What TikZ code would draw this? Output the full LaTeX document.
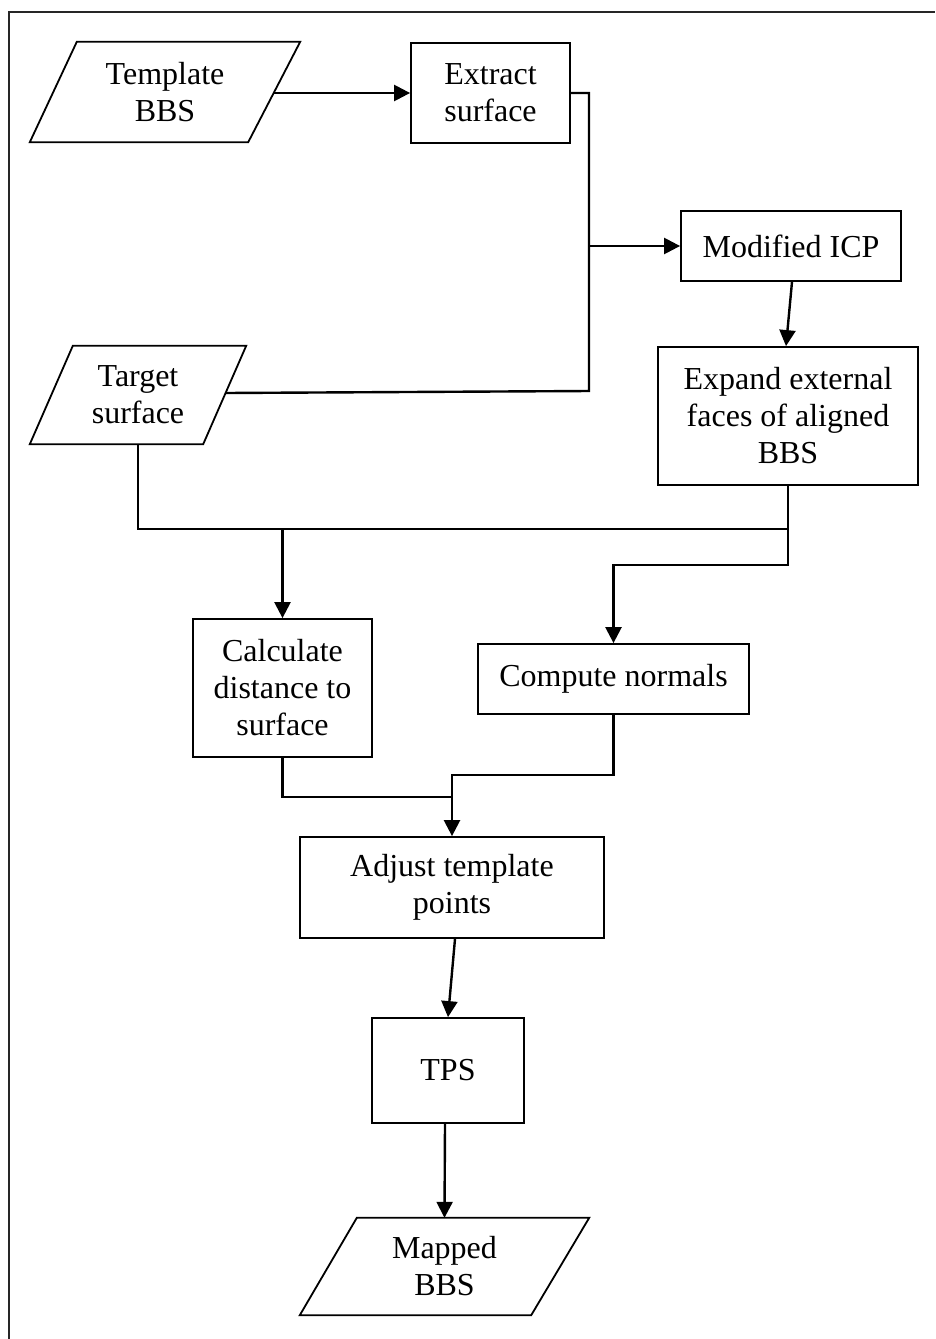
\documentclass[tikz,border=0pt]{standalone}
\usepackage{fontspec}
\setmainfont{Liberation Serif}
\usetikzlibrary{arrows.meta}
\begin{document}
\begin{tikzpicture}[x=1pt,y=-1pt,
  txt/.style={font=\fontsize{32}{37}\selectfont, align=center, inner sep=0pt},
  box/.style={txt, draw, line width=1.8pt},
  pline/.style={line width=1.8pt, line join=miter},
  conn/.style={line width=2.4pt},
  arr/.style={conn, -{Triangle[length=16pt,width=16pt]}}]
\useasboundingbox (0,0) rectangle (935,1339);
% frame
\draw[line width=1.6pt, black!85] (9,1339) -- (9,12) -- (935,12);

% nodes
\node[txt, minimum width=270pt, minimum height=100pt] (tpl) at (165,92) {Template\\BBS};
\draw[pline] ([xshift=47pt]tpl.north west) -- (tpl.north east) -- ([xshift=-52pt]tpl.south east) -- (tpl.south west) -- cycle;

\node[box, minimum width=159pt, minimum height=100pt] (ext) at (490.5,93) {Extract\\surface};
\node[box, minimum width=220pt, minimum height=70pt] (icp) at (791,246) {Modified ICP};

\node[txt, minimum width=216pt, minimum height=98pt] (tgt) at (138,395) {Target\\surface};
\draw[pline] ([xshift=43pt]tgt.north west) -- (tgt.north east) -- ([xshift=-43pt]tgt.south east) -- (tgt.south west) -- cycle;

\node[box, minimum width=260pt, minimum height=138pt] (exp) at (788,416) {Expand external\\faces of aligned\\BBS};
\node[box, minimum width=179pt, minimum height=138pt] (calc) at (282.5,688) {Calculate\\distance to\\surface};
\node[box, minimum width=271pt, minimum height=70pt] (cmp) at (613.5,679) {Compute normals};
\node[box, minimum width=304pt, minimum height=101pt] (adj) at (452,887.5) {Adjust template\\points};
\node[box, minimum width=152pt, minimum height=105pt] (tps) at (448,1070.5) {TPS};

\node[txt, minimum width=289pt, minimum height=97pt] (map) at (444.5,1266.5) {Mapped\\BBS};
\draw[pline] ([xshift=57pt]map.north west) -- (map.north east) -- ([xshift=-58pt]map.south east) -- (map.south west) -- cycle;

% helper coordinates
\coordinate (tplR) at ([xshift=-27pt,yshift=-1pt]tpl.east);
\coordinate (tgtR) at ([xshift=-21pt,yshift=2pt]tgt.east);
\coordinate (jtop) at (589,93);
\coordinate (jmid) at (589,246);
\coordinate (jbot) at (589,391);
\coordinate (hrow) at (0,529);
\coordinate (crow) at (0,565);
\coordinate (m1) at (0,797);
\coordinate (m2) at (0,775);

% connectors
\draw[arr] (tplR) -- (ext.west);
\draw[conn] (ext.east) -- (jtop) -- (jbot) -- (tgtR);
\draw[arr] (jmid) -- (icp.west);
\draw[arr] ([xshift=1pt]icp.south) -- ([xshift=-2pt]exp.north);
\draw[conn] (tgt.south) |- (exp.south |- hrow);
\draw[arr] (exp.south) -- (exp.south |- crow) -| (cmp.north);
\draw[arr] (calc.north |- hrow) -- (calc.north);
\draw[conn] (calc.south) |- (adj.north |- m1);
\draw[arr] (cmp.south) |- (adj.north |- m2) -- (adj.north);
\draw[arr] ([xshift=3pt]adj.south) -- (tps.north);
\draw[arr] ([xshift=-3pt]tps.south) -- (map.north);
\end{tikzpicture}
\end{document}
